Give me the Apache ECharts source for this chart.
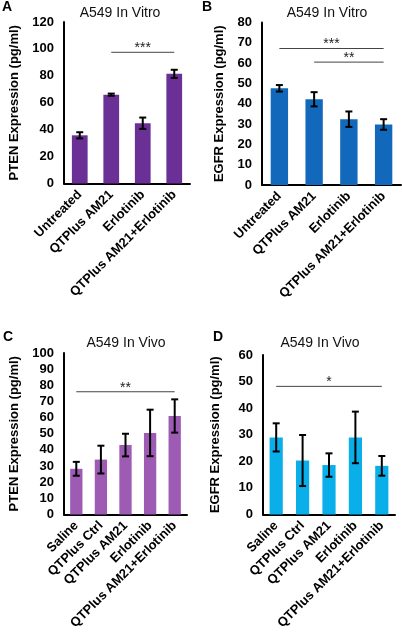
<!DOCTYPE html>
<html><head><meta charset="utf-8">
<script src="https://cdn.jsdelivr.net/npm/echarts@6/dist/echarts.min.js"></script>
<style>html,body{margin:0;padding:0;background:#fff}#wrap{position:relative;width:402px;height:633px;overflow:hidden}.p{position:absolute;width:201px;height:317px}</style>
</head><body><div id="wrap">
<div class="p" id="pA" style="left:0;top:0"></div>
<div class="p" id="pB" style="left:201px;top:0"></div>
<div class="p" id="pC" style="left:0;top:316px"></div>
<div class="p" id="pD" style="left:201px;top:316px"></div>
</div>
<script>
const catsVitro = ['Untreated','QTPlus AM21','Erlotinib','QTPlus AM21+Erlotinib'];
const catsVivo = ['Saline','QTPlus Ctrl','QTPlus AM21','Erlotinib','QTPlus AM21+Erlotinib'];
const ptenVitro = [35.8, 66, 44.8, 81.5];
const ptenVitroErr = [2.3, 0.8, 4.2, 3];
const egfrVitro = [47.6, 42.2, 32.4, 29.8];
const egfrVitroErr = [1.6, 3.5, 3.8, 2.6];
const ptenVivo = [28.3, 34, 43, 50.5, 61];
const ptenVivoErr = [4.3, 8.6, 7, 14.4, 10.3];
const egfrVivo = [29, 20.3, 18.6, 29, 18.3];
const egfrVivoErr = [5.3, 9.6, 4.4, 9.7, 3.7];
// significance: [from index, to index, y value]
const sigA = [[1, 3, 97.5]]; const sigALabels = ['***'];
const sigB = [[0, 3, 67.2], [1, 3, 60.5]]; const sigBLabels = ['***', '**'];
const sigC = [[0, 4, 76]]; const sigCLabels = ['**'];
const sigD = [[0, 4, 48.2]]; const sigDLabels = ['*'];
const panelTitles = ['A549 In Vitro', 'A549 In Vitro', 'A549 In Vivo', 'A549 In Vivo'];
const panelLetters = ['A', 'B', 'C', 'D'];
const yNames = ['PTEN Expression (pg/ml)', 'EGFR Expression (pg/ml)', 'PTEN Expression (pg/ml)', 'EGFR Expression (pg/ml)'];

const FONT = 'Arial, "Liberation Sans", sans-serif';

function errItem(params, api) {
  const x = api.value(0), v = api.value(1), e = api.value(2);
  const t = api.coord([x, v + e]), b = api.coord([x, v - e]);
  const hw = 3.5, st = {stroke: '#000', lineWidth: 2};
  return {type: 'group', children: [
    {type: 'line', shape: {x1: t[0], y1: t[1], x2: b[0], y2: b[1]}, style: st},
    {type: 'line', shape: {x1: t[0] - hw, y1: t[1], x2: t[0] + hw, y2: t[1]}, style: st},
    {type: 'line', shape: {x1: b[0] - hw, y1: b[1], x2: b[0] + hw, y2: b[1]}, style: st}
  ]};
}
function sigItemFactory(labels) {
  return function (params, api) {
    const a = api.coord([api.value(0), api.value(2)]);
    const b = api.coord([api.value(1), api.value(2)]);
    return {type: 'group', children: [
      {type: 'line', shape: {x1: a[0], y1: a[1], x2: b[0], y2: b[1]}, style: {stroke: '#444', lineWidth: 1}},
      {type: 'text', x: (a[0] + b[0]) / 2, y: a[1] + 3, style: {text: labels[params.dataIndex], font: '14px ' + FONT, fill: '#222', align: 'center', verticalAlign: 'bottom'}}
    ]};
  };
}

const ids = ['pA', 'pB', 'pC', 'pD'];
const grids = [
  {left: 57, top: 22, width: 133, height: 161.5},
  {left: 61, top: 22.5, width: 139, height: 162.5},
  {left: 62, top: 37, width: 125, height: 161.5},
  {left: 62, top: 39, width: 132, height: 159.5}
];
const yMax = [120, 80, 100, 60], yInt = [20, 10, 10, 10];
const cats = [catsVitro, catsVitro, catsVivo, catsVivo];
const vals = [ptenVitro, egfrVitro, ptenVivo, egfrVivo];
const errs = [ptenVitroErr, egfrVitroErr, ptenVivoErr, egfrVivoErr];
const sigs = [sigA, sigB, sigC, sigD];
const sigLabels = [sigALabels, sigBLabels, sigCLabels, sigDLabels];
const colors = ['#6B3096', '#1269BC', '#9D5BB3', '#0AAEE8'];
const titleCenters = [[120, 6], [126, 6], [126, 20], [119, 20]];
const letterPos = [[2, 0], [1, 0], [3, 14], [12, 14]];
const nameGaps = [43, 36, 43, 41];

for (let i = 0; i < 4; i++) {
  const chart = echarts.init(document.getElementById(ids[i]));
  chart.setOption({
    animation: false,
    title: [
      {text: panelTitles[i], left: titleCenters[i][0], top: titleCenters[i][1], padding: 0, textAlign: 'center',
        textStyle: {fontFamily: FONT, fontSize: 14, fontWeight: 'normal', color: '#111'}},
      {text: panelLetters[i], left: letterPos[i][0], top: letterPos[i][1], padding: 0,
        textStyle: {fontFamily: FONT, fontSize: 14, fontWeight: 'bold', color: '#000'}}
    ],
    grid: grids[i],
    xAxis: {type: 'category', data: cats[i],
      axisLine: {lineStyle: {color: '#000', width: 2}}, axisTick: {show: false},
      axisLabel: {rotate: 45, interval: 0, margin: 9, fontFamily: FONT, fontSize: 13, fontWeight: 'bold', color: '#000'}},
    yAxis: {type: 'value', min: 0, max: yMax[i], interval: yInt[i],
      name: yNames[i], nameLocation: 'middle', nameGap: nameGaps[i],
      nameTextStyle: {fontFamily: FONT, fontSize: 13, fontWeight: 'bold', color: '#000'},
      axisLine: {show: true, lineStyle: {color: '#000', width: 2}}, axisTick: {show: false}, splitLine: {show: false},
      axisLabel: {margin: 10, showMaxLabel: true, fontFamily: FONT, fontSize: 13, fontWeight: 'bold', color: '#000'}},
    series: [
      {type: 'bar', data: vals[i], barWidth: '50%', itemStyle: {color: colors[i]}},
      {type: 'custom', renderItem: errItem, clip: false, encode: {x: 0, y: 1},
        data: vals[i].map((v, j) => [j, v, errs[i][j]]), z: 5},
      {type: 'custom', renderItem: sigItemFactory(sigLabels[i]), clip: false, encode: {x: 0, y: 2}, data: sigs[i], z: 5}
    ]
  });
}
</script></body></html>
